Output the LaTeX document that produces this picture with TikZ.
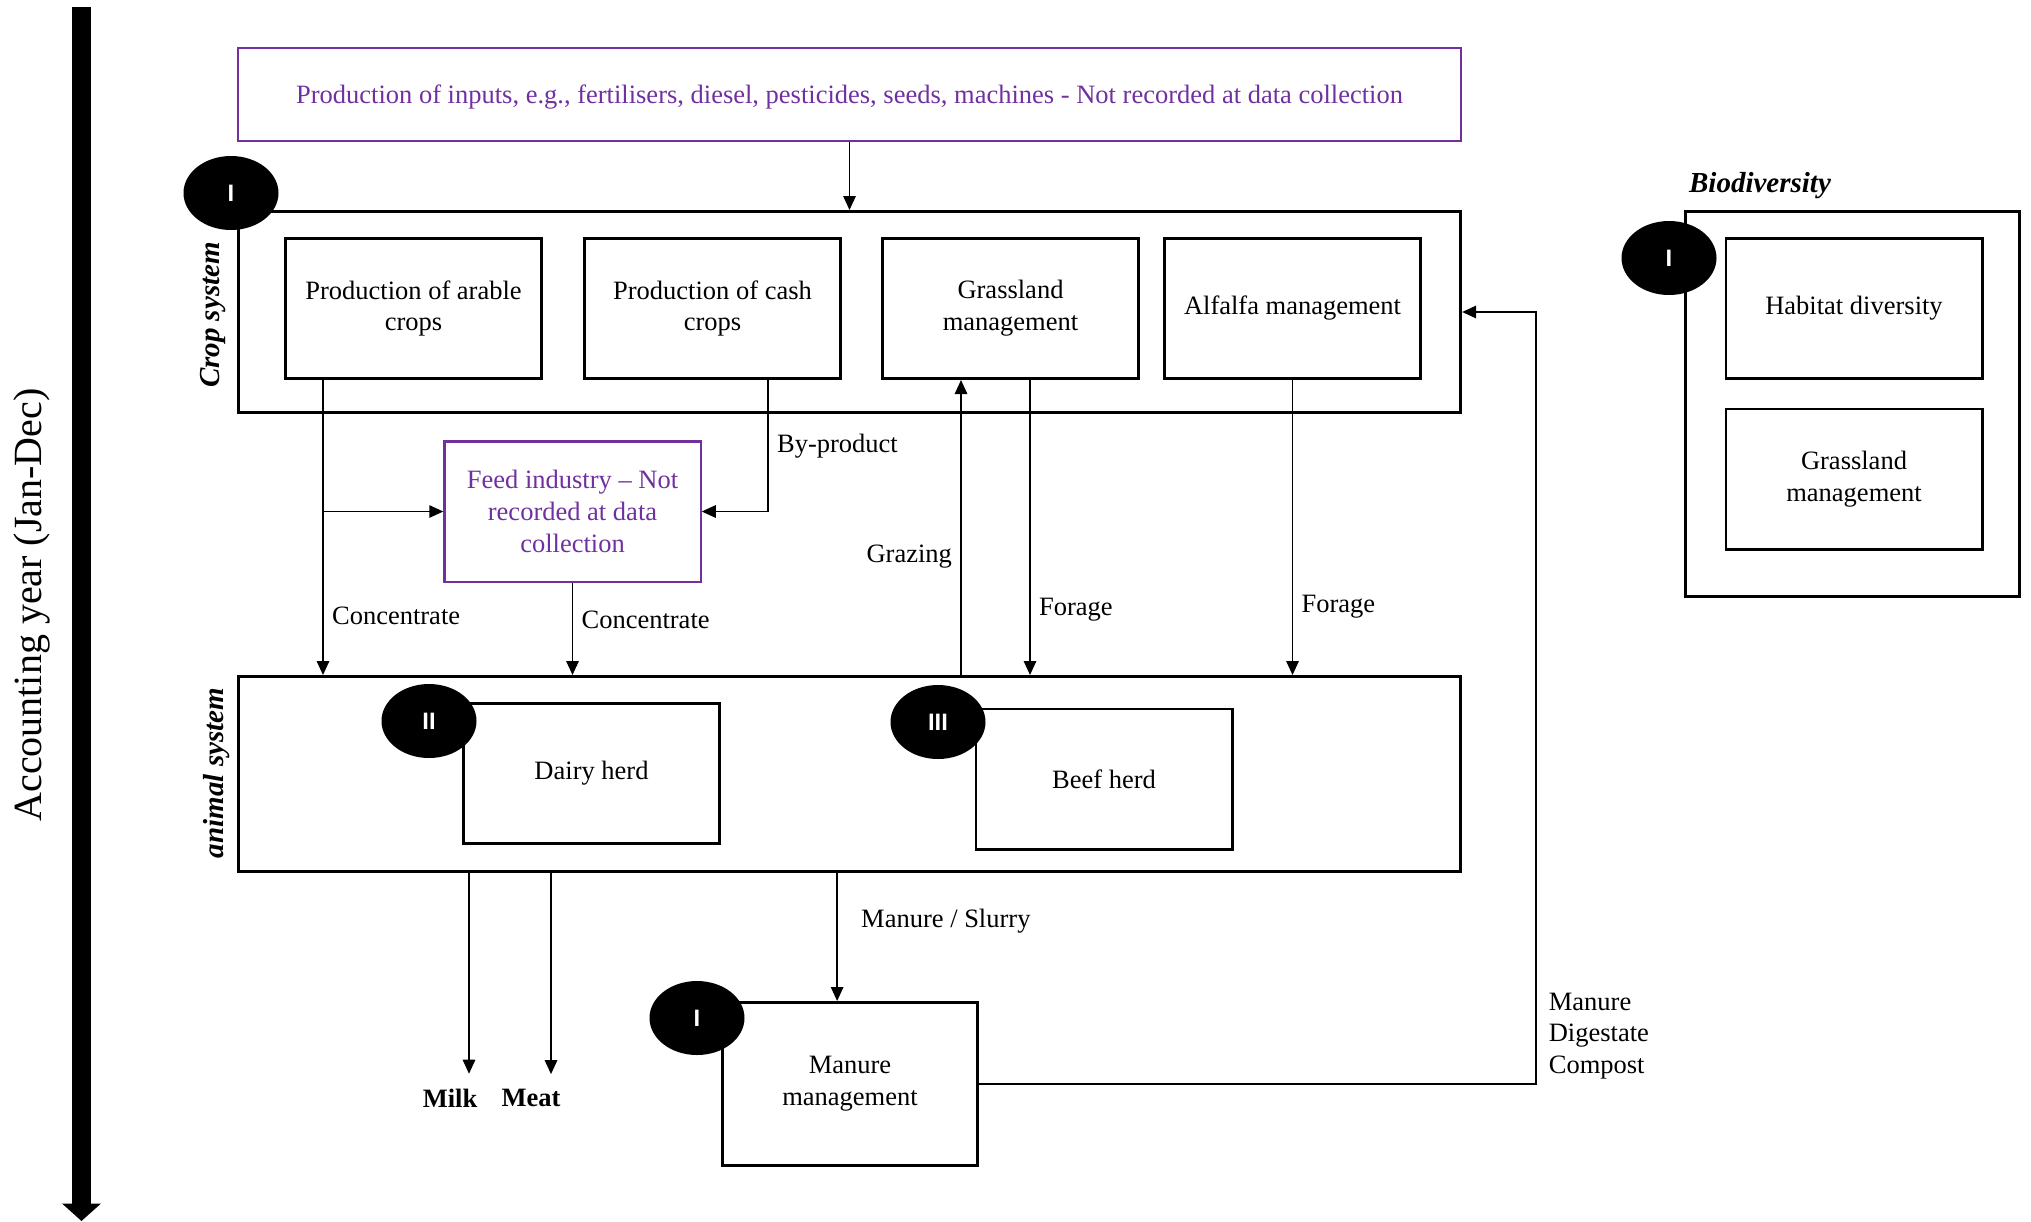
\documentclass[tikz,border=0pt]{standalone}
\usepackage{fontspec}
\setmainfont{Liberation Serif}
\newfontfamily\badgefont{Liberation Sans}
\usetikzlibrary{positioning,calc,arrows.meta,shapes.geometric}
\definecolor{Purple}{RGB}{112,48,160}
\tikzset{
	box/.style={draw, line width=1.1pt, minimum width=102.5pt, minimum height=56.1pt, align=center, inner sep=2pt},
	frame/.style={draw, line width=1.1pt, minimum width=489pt},
	extbox/.style={draw=Purple, text=Purple, line width=0.9pt},
	badge/.style={ellipse, fill=black, text=white, minimum width=38pt, minimum height=29.6pt, inner sep=0pt, font=\badgefont\bfseries\fontsize{9.5}{11}\selectfont},
	flow/.style={line width=0.6pt, -{Triangle[length=5.6pt,width=5pt]}},
	timeline/.style={line width=7.6pt, -{Triangle[length=7pt,width=15.2pt]}},
	syslabel/.style={rotate=90, font=\bfseries\itshape\fontsize{11.6}{14}\selectfont},
	prod/.style={font=\bfseries\fontsize{10.6}{12.7}\selectfont},
}

\begin{document}
\begin{tikzpicture}[x=0.4pt,y=-0.4pt,font=\fontsize{10.6}{12.7}\selectfont]
	\useasboundingbox (0,0) rectangle (2031,1221);
	% time line
	\coordinate (ttop) at (81.5,7);
	\coordinate (tbot) at (81.5,1221);
	\draw [timeline] (ttop) -- (tbot);
	\node (acct) [rotate=90,font=\fontsize{16}{19}\selectfont] at (32,605) {Accounting year (Jan-Dec)};

	% frames
	\node (inputs) [frame,extbox,minimum height=37.2pt,text depth=-4pt] at (849.5,94.5) {Production of inputs, e.g., fertilisers, diesel, pesticides, seeds, machines - Not recorded at data collection};
	\node (crop) [frame,minimum height=80.5pt] at (849.5,312) {};
	\node (animal) [frame,minimum height=78.1pt] at (849.5,774) {};
	\node (bio) [frame,minimum width=133.7pt,minimum height=154.1pt] at (1852.5,404) {};
	\node (croplbl) [syslabel] at (213,315) {Crop system};
	\node (animallbl) [syslabel] at (217,773) {animal system};
	\node (biolbl) [font=\bfseries\itshape\fontsize{11.6}{14}\selectfont] at (1760,186) {Biodiversity};

	% crop system
	\node (arable) [box] at (413.5,308.5) {Production of arable\\crops};
	\node (cash) [box,right=16pt of arable] {Production of cash\\crops};
	\node (grass) [box,right=15.6pt of cash] {Grassland\\management};
	\node (alfalfa) [box,right=9.2pt of grass] {Alfalfa management};

	% biodiversity
	\node (habitat) [box] at (1854,308.5) {Habitat diversity};
	\node (biograss) [box,below=11pt of habitat] {Grassland\\management};

	% feed, animals, manure
	\node (feed) [box,extbox] at (572.5,511.5) {Feed industry -- Not\\recorded at data\\collection};
	\node (dairy) [box] at (591.5,773.5) {Dairy herd};
	\node (beef) [box] at (1104,779) {Beef herd};
	\node (manure) [box,minimum width=102pt,minimum height=65.3pt] at (850,1084) {Manure\\management};
	\node (milk) [prod] at (450,1098) {Milk};
	\node (meat) [prod] at (531,1098) {Meat};

	% flows
	\draw [flow] (inputs.south) -- (crop.north);
	\coordinate (ar) at ($(arable.south west)+(39,0)$);
	\draw [flow] (ar) -- (ar |- animal.north) node [pos=0.8,right] {Concentrate};
	\draw [flow] (ar |- feed.west) -- (feed.west);
	\coordinate (bp) at ($(cash.south east)+(-74,0)$);
	\draw [flow] (bp) |- (feed.east) node [pos=0.25,right] {By-product};
	\draw [flow] (feed.south) -- (feed.south |- animal.north) node [pos=0.4,right] {Concentrate};
	\coordinate (gz) at ($(grass.south west)+(80,0)$);
	\draw [flow] (gz |- animal.north) -- (gz) node [pos=0.4,left] {Grazing};
	\coordinate (fg) at ($(grass.south west)+(149,0)$);
	\draw [flow] (fg) -- (fg |- animal.north) node [pos=0.78,right] {Forage};
	\draw [flow] (alfalfa.south) -- (alfalfa.south |- animal.north) node [pos=0.77,right] {Forage};
	\coordinate (milkin) at ([xshift=7.6pt,yshift=2.5pt]milk.north);
	\draw [flow] (milkin |- animal.south) -- (milkin);
	\coordinate (meatin) at ([xshift=8pt,yshift=2.5pt]meat.north);
	\draw [flow] (meatin |- animal.south) -- (meatin);
	\coordinate (msin) at ($(manure.north west)+(116,0)$);
	\draw [flow] (msin |- animal.south) -- (msin) node [pos=0.38,right,xshift=6pt] {Manure / Slurry};
	\coordinate (ret) at ($(crop.east)+(74,0)$);
	\draw [flow] (manure.east) -| (ret) -- (crop.east);
	\node (mdc) [anchor=west,align=left] at (1540,1036) {Manure\\Digestate\\Compost};

	% badges
	\node (b1) [badge] at (231,193) {I};
	\node (b2) [badge] at (1669,258) {I};
	\node (b3) [badge] at (429,721) {II};
	\node (b4) [badge] at (938,722) {III};
	\node (b5) [badge] at (697,1018) {I};
\end{tikzpicture}
\end{document}
